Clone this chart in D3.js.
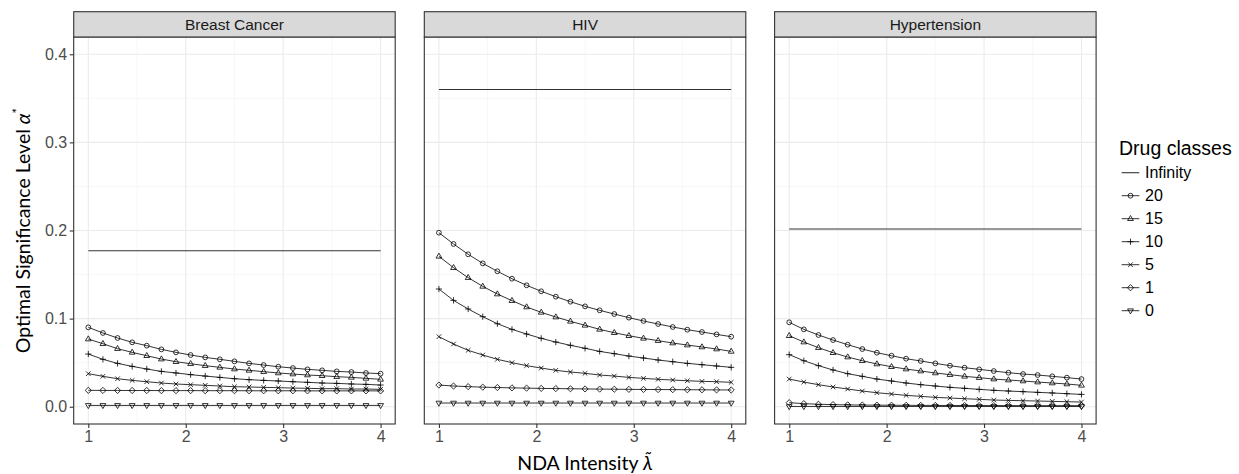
<!DOCTYPE html>
<html>
<head>
<meta charset="utf-8">
<script src="https://cdn.jsdelivr.net/npm/d3@7"></script>
<style>
  body { margin: 0; background: #fff; }
  svg { display: block; }
</style>
</head>
<body>
<svg id="chart" width="1239" height="474"></svg>
<script>
// --- Data ---
const lambda = [1, 1.15, 1.3, 1.45, 1.6, 1.75, 1.9, 2.05, 2.2, 2.35, 2.5, 2.65, 2.8, 2.95, 3.1, 3.25, 3.4, 3.55, 3.7, 3.85, 4];
const diseases = ["Breast Cancer", "HIV", "Hypertension"];
const drugClasses = ["Infinity", "20", "15", "10", "5", "1", "0"];
const infinityLevel = [0.177, 0.360, 0.2017];

const breast20 = [0.0901, 0.0837, 0.0780, 0.0731, 0.0693, 0.0651, 0.0617, 0.0587, 0.0560, 0.0538, 0.0515, 0.0492, 0.0473, 0.0454, 0.0439, 0.0424, 0.0413, 0.0401, 0.0394, 0.0383, 0.0375];
const breast15 = [0.0768, 0.0715, 0.0659, 0.0617, 0.0579, 0.0541, 0.0511, 0.0488, 0.0466, 0.0447, 0.0428, 0.0413, 0.0398, 0.0383, 0.0371, 0.0360, 0.0352, 0.0341, 0.0333, 0.0322, 0.0311];
const breast10 = [0.0598, 0.0538, 0.0492, 0.0458, 0.0428, 0.0401, 0.0383, 0.0364, 0.0348, 0.0333, 0.0318, 0.0307, 0.0299, 0.0292, 0.0284, 0.0277, 0.0269, 0.0265, 0.0258, 0.0254, 0.0246];
const breast5  = [0.0375, 0.0345, 0.0318, 0.0299, 0.0284, 0.0269, 0.0258, 0.0250, 0.0243, 0.0235, 0.0227, 0.0224, 0.0220, 0.0216, 0.0212, 0.0209, 0.0205, 0.0205, 0.0201, 0.0201, 0.0197];
const breast1  = [0.0186, 0.0185, 0.0185, 0.0184, 0.0184, 0.0183, 0.0183, 0.0183, 0.0182, 0.0182, 0.0182, 0.0181, 0.0181, 0.0181, 0.0181, 0.0180, 0.0180, 0.0180, 0.0180, 0.0180, 0.0180];
const breast0  = [0.0015, 0.0015, 0.0015, 0.0015, 0.0015, 0.0015, 0.0015, 0.0015, 0.0015, 0.0015, 0.0015, 0.0015, 0.0015, 0.0015, 0.0015, 0.0015, 0.0015, 0.0015, 0.0015, 0.0015, 0.0015];

const hiv20 = [0.1975, 0.1847, 0.1730, 0.1627, 0.1537, 0.1453, 0.1378, 0.1310, 0.1249, 0.1192, 0.1139, 0.1094, 0.1052, 0.1011, 0.0973, 0.0939, 0.0905, 0.0874, 0.0848, 0.0821, 0.0795];
const hiv15 = [0.1707, 0.1578, 0.1465, 0.1366, 0.1279, 0.1204, 0.1132, 0.1071, 0.1018, 0.0969, 0.0924, 0.0878, 0.0840, 0.0806, 0.0776, 0.0750, 0.0723, 0.0700, 0.0678, 0.0655, 0.0628];
const hiv10 = [0.1336, 0.1207, 0.1109, 0.1022, 0.0942, 0.0878, 0.0825, 0.0776, 0.0734, 0.0697, 0.0663, 0.0628, 0.0602, 0.0575, 0.0553, 0.0530, 0.0511, 0.0492, 0.0477, 0.0462, 0.0447];
const hiv5  = [0.0795, 0.0712, 0.0640, 0.0587, 0.0538, 0.0500, 0.0466, 0.0439, 0.0413, 0.0394, 0.0379, 0.0360, 0.0348, 0.0333, 0.0322, 0.0311, 0.0303, 0.0295, 0.0288, 0.0284, 0.0277];
const hiv1  = [0.0246, 0.0235, 0.0228, 0.0222, 0.0218, 0.0214, 0.0211, 0.0208, 0.0206, 0.0204, 0.0202, 0.0200, 0.0199, 0.0197, 0.0196, 0.0195, 0.0194, 0.0193, 0.0192, 0.0191, 0.0190];
const hiv0  = [0.0042, 0.0042, 0.0042, 0.0042, 0.0042, 0.0042, 0.0042, 0.0042, 0.0042, 0.0042, 0.0042, 0.0042, 0.0042, 0.0042, 0.0042, 0.0042, 0.0042, 0.0042, 0.0042, 0.0042, 0.0042];

const hyper20 = [0.0958, 0.0878, 0.0814, 0.0757, 0.0704, 0.0655, 0.0613, 0.0579, 0.0545, 0.0519, 0.0492, 0.0466, 0.0443, 0.0424, 0.0405, 0.0386, 0.0371, 0.0360, 0.0345, 0.0330, 0.0314];
const hyper15 = [0.0806, 0.0734, 0.0670, 0.0613, 0.0564, 0.0522, 0.0485, 0.0454, 0.0428, 0.0405, 0.0383, 0.0364, 0.0345, 0.0330, 0.0314, 0.0303, 0.0292, 0.0280, 0.0269, 0.0258, 0.0243];
const hyper10 = [0.0591, 0.0522, 0.0466, 0.0417, 0.0375, 0.0345, 0.0314, 0.0292, 0.0269, 0.0250, 0.0235, 0.0220, 0.0209, 0.0197, 0.0186, 0.0178, 0.0171, 0.0163, 0.0156, 0.0148, 0.0140];
const hyper5  = [0.0314, 0.0280, 0.0250, 0.0224, 0.0201, 0.0178, 0.0159, 0.0144, 0.0129, 0.0118, 0.0106, 0.0099, 0.0091, 0.0084, 0.0076, 0.0072, 0.0068, 0.0065, 0.0061, 0.0057, 0.0053];
const hyper1  = [0.0046, 0.0035, 0.0028, 0.0024, 0.0021, 0.0019, 0.0018, 0.0017, 0.0016, 0.0015, 0.0015, 0.0014, 0.0014, 0.0013, 0.0013, 0.0013, 0.0012, 0.0012, 0.0012, 0.0012, 0.0012];
const hyper0  = [0.0003, 0.0003, 0.0003, 0.0003, 0.0003, 0.0003, 0.0003, 0.0003, 0.0003, 0.0003, 0.0003, 0.0003, 0.0003, 0.0003, 0.0003, 0.0003, 0.0003, 0.0003, 0.0003, 0.0003, 0.0003];

const xTicks = [1, 2, 3, 4];
const yTicks = [0, 0.1, 0.2, 0.3, 0.4];

// per panel: curves in legend order (20, 15, 10, 5, 1, 0)
const curves = [
    [breast20, breast15, breast10, breast5, breast1, breast0],
    [hiv20, hiv15, hiv10, hiv5, hiv1, hiv0],
    [hyper20, hyper15, hyper10, hyper5, hyper1, hyper0]
];

// --- Layout ---
const panelLeft = [73.7, 424.3, 774.6];
const panelW = 321.5;
const stripTop = 11.7, panelTop = 37, panelBottom = 424;
const panelH = panelBottom - panelTop;
const sans = "'Liberation Sans', Arial, Helvetica, sans-serif";

const svg = d3.select("#chart");

const x = d3.scaleLinear().domain([0.85, 4.15]).range([0, panelW]);
const y = d3.scaleLinear().domain([-0.0196, 0.4196]).range([panelH, 0]);

// marker shapes (ggplot shapes 1..6)
function shapePath(kind) {
    switch (kind) {
        case "20": { const r = 2.4; return `M${-r},0A${r},${r} 0 1,0 ${r},0A${r},${r} 0 1,0 ${-r},0Z`; }
        case "15": return "M0,-3.2L2.9,1.8L-2.9,1.8Z";
        case "10": return "M-3.1,0H3.1M0,-3.1V3.1";
        case "5":  return "M-2.3,-2.3L2.3,2.3M-2.3,2.3L2.3,-2.3";
        case "1":  return "M0,-3.1L3.1,0L0,3.1L-3.1,0Z";
        case "0":  return "M0,3.2L2.9,-1.8L-2.9,-1.8Z";
    }
    return "";
}

const line = d3.line().x(d => x(d[0])).y(d => y(d[1]));

diseases.forEach((name, i) => {
    const g = svg.append("g").attr("transform", `translate(${panelLeft[i]},${panelTop})`);

    // --- background + grid ---
    g.append("rect").attr("width", panelW).attr("height", panelH).attr("fill", "#fff");
    const minorX = [1.5, 2.5, 3.5];
    const minorY = [0.05, 0.15, 0.25, 0.35];
    g.selectAll(".minx").data(minorX).enter().append("line")
        .attr("x1", d => x(d)).attr("x2", d => x(d)).attr("y1", 0).attr("y2", panelH)
        .attr("stroke", "#f2f2f2").attr("stroke-width", 0.6);
    g.selectAll(".miny").data(minorY).enter().append("line")
        .attr("y1", d => y(d)).attr("y2", d => y(d)).attr("x1", 0).attr("x2", panelW)
        .attr("stroke", "#f2f2f2").attr("stroke-width", 0.6);
    g.selectAll(".majx").data(xTicks).enter().append("line")
        .attr("x1", d => x(d)).attr("x2", d => x(d)).attr("y1", 0).attr("y2", panelH)
        .attr("stroke", "#ebebeb").attr("stroke-width", 1.1);
    g.selectAll(".majy").data(yTicks).enter().append("line")
        .attr("y1", d => y(d)).attr("y2", d => y(d)).attr("x1", 0).attr("x2", panelW)
        .attr("stroke", "#ebebeb").attr("stroke-width", 1.1);

    // --- infinity line ---
    g.append("path")
        .attr("d", line(lambda.map(l => [l, infinityLevel[i]])))
        .attr("fill", "none").attr("stroke", "#333").attr("stroke-width", 1.1);

    // --- finite drug-class curves ---
    curves[i].forEach((vals, k) => {
        const cls = drugClasses[k + 1];
        const pts = lambda.map((l, j) => [l, vals[j]]);
        g.append("path").attr("d", line(pts))
            .attr("fill", "none").attr("stroke", "#000").attr("stroke-width", 0.8);
        g.selectAll(null).data(pts).enter().append("path")
            .attr("transform", d => `translate(${x(d[0])},${y(d[1])})`)
            .attr("d", shapePath(cls))
            .attr("fill", "none").attr("stroke", "#000").attr("stroke-width", 0.8);
    });

    // border
    g.append("rect").attr("width", panelW).attr("height", panelH)
        .attr("fill", "none").attr("stroke", "#333").attr("stroke-width", 1.1);

    // --- strip ---
    svg.append("rect")
        .attr("x", panelLeft[i]).attr("y", stripTop)
        .attr("width", panelW).attr("height", panelTop - stripTop)
        .attr("fill", "#d9d9d9").attr("stroke", "#333").attr("stroke-width", 1.1);
    svg.append("text")
        .attr("x", panelLeft[i] + panelW / 2).attr("y", (stripTop + panelTop) / 2 + 5.5)
        .attr("text-anchor", "middle")
        .style("font-family", sans).style("font-size", "15.5px")
        .attr("fill", "#1a1a1a")
        .text(name);

    // --- x axis ---
    const xa = g.append("g").attr("transform", `translate(0,${panelH})`)
        .call(d3.axisBottom(x).tickValues(xTicks).tickSize(4).tickPadding(3).tickFormat(d3.format("d")));
    xa.select(".domain").remove();
    xa.selectAll("line").attr("stroke", "#333").attr("stroke-width", 1.1);
    xa.selectAll("text").attr("fill", "#4d4d4d")
        .style("font-family", sans).style("font-size", "16px");

    // --- y axis (first panel only) ---
    if (i === 0) {
        const ya = g.append("g")
            .call(d3.axisLeft(y).tickValues(yTicks).tickSize(4).tickPadding(2.5).tickFormat(d3.format(".1f")));
        ya.select(".domain").remove();
        ya.selectAll("line").attr("stroke", "#333").attr("stroke-width", 1.1);
        ya.selectAll("text").attr("fill", "#4d4d4d")
            .style("font-family", sans).style("font-size", "16px");
    }
});

// --- Axis titles ---
const xt = svg.append("text")
    .attr("x", 585).attr("y", 470)
    .attr("text-anchor", "middle")
    .style("font-family", "Lato, 'Open Sans', sans-serif").style("font-size", "19.5px")
    .attr("fill", "#000");
xt.append("tspan").text("NDA Intensity ");
xt.append("tspan").style("font-style", "italic").text("\u03BB\u0303");

const yt = svg.append("text")
    .attr("transform", "translate(30,230.5) rotate(-90)")
    .attr("text-anchor", "middle")
    .style("font-family", "Lato, 'Open Sans', sans-serif").style("font-size", "19.5px")
    .attr("fill", "#000");
yt.append("tspan").text("Optimal Significance Level ");
yt.append("tspan").style("font-style", "italic").text("\u03B1");
yt.append("tspan").attr("dy", -8).style("font-size", "13px").text("*");

// --- Legend ---
const legend = svg.append("g").attr("transform", "translate(1119,0)");
legend.append("text")
    .attr("x", 0).attr("y", 154.5)
    .style("font-family", sans).style("font-size", "19.5px")
    .attr("fill", "#000")
    .text("Drug classes");

const legendY = d3.scalePoint().domain(drugClasses).range([172.7, 310.7]);
drugClasses.forEach(cls => {
    const ly = legendY(cls);
    legend.append("line")
        .attr("x1", 2.7).attr("x2", 20.3).attr("y1", ly).attr("y2", ly)
        .attr("stroke", cls === "Infinity" ? "#333" : "#000")
        .attr("stroke-width", cls === "Infinity" ? 1.1 : 0.8);
    if (cls !== "Infinity") {
        legend.append("path")
            .attr("transform", `translate(11.5,${ly})`)
            .attr("d", shapePath(cls))
            .attr("fill", "none").attr("stroke", "#000").attr("stroke-width", 0.8);
    }
    legend.append("text")
        .attr("x", 26).attr("y", ly + 5.5)
        .style("font-family", sans).style("font-size", "16px")
        .attr("fill", "#000")
        .text(cls);
});
</script>
</body>
</html>
